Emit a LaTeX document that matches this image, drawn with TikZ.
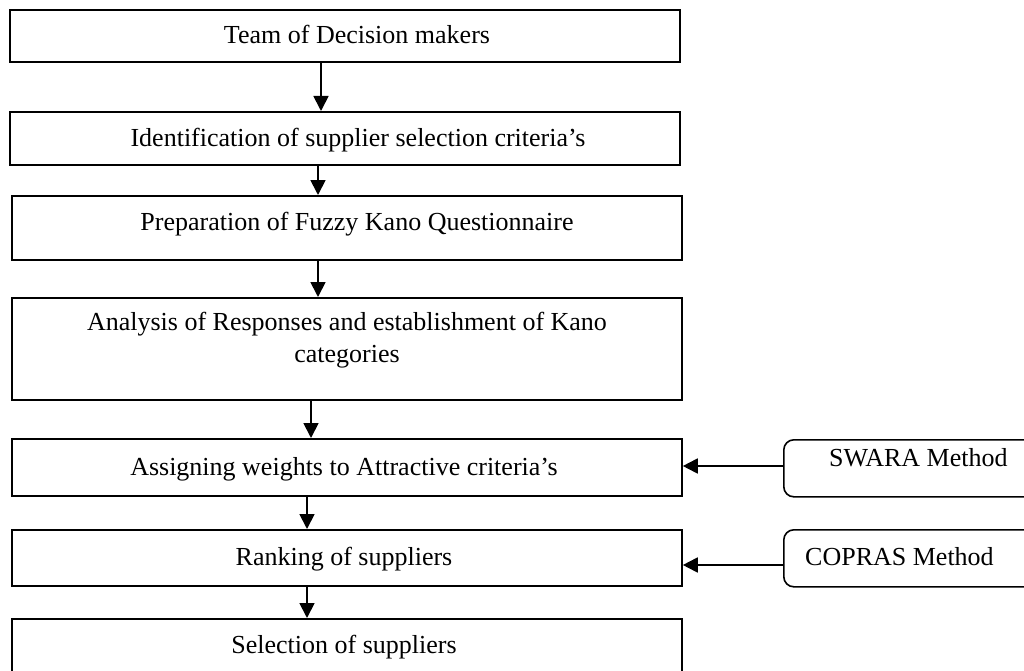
\documentclass[tikz,border=0pt]{standalone}
\usepackage{fontspec}
\setmainfont{Liberation Serif}
\usetikzlibrary{arrows.meta}
\begin{document}
\begin{tikzpicture}[x=1pt,y=-1pt,
  stage/.style={draw, line width=1.8pt, anchor=north west, inner sep=0pt},
  method/.style={draw, line width=1.6pt, rounded corners=10pt, anchor=north west, inner sep=0pt},
  words/.style={anchor=base, inner sep=0pt, font=\fontsize{26}{32}\selectfont},
  flow/.style={line width=1.8pt, -{Triangle[width=15pt,length=15pt]}}]
\useasboundingbox (0,0) rectangle (1024,671);

% process stages
\node[stage, minimum width=670pt, minimum height=52pt]  (b1) at (9,9)   {};
\node[stage, minimum width=670pt, minimum height=53pt]  (b2) at (9,111) {};
\node[stage, minimum width=670pt, minimum height=64pt]  (b3) at (11,195) {};
\node[stage, minimum width=670pt, minimum height=102pt] (b4) at (11,297) {};
\node[stage, minimum width=670pt, minimum height=57pt]  (b5) at (11,438) {};
\node[stage, minimum width=670pt, minimum height=56pt]  (b6) at (11,529) {};
\node[stage, minimum width=670pt, minimum height=72pt]  (b7) at (11,618) {};

\node[words] (t1) at (357,44)  {Team of Decision makers};
\node[words] (t2) at (358,147) {Identification of supplier selection criteria’s};
\node[words] (t3) at (357,230) {Preparation of Fuzzy Kano Questionnaire};
\node[words, anchor=north, align=center] (t4) at (347,312)
  {Analysis of Responses and establishment of Kano\\categories};
\node[words] (t5) at (344,475) {Assigning weights to Attractive criteria’s};
\node[words] (t6) at (344,565) {Ranking of suppliers};
\node[words] (t7) at (344,653) {Selection of suppliers};

% supporting methods
\node[method, minimum width=270pt, minimum height=57pt] (sw) at (783,439) {};
\node[method, minimum width=270pt, minimum height=57pt] (cp) at (783,529) {};
\node[words, anchor=base west] (tsw) at (829,466) {SWARA Method};
\node[words, anchor=base west] (tcp) at (805,565) {COPRAS Method};

% connectors
\draw[flow] (b1.south -| 321,0) -- (b2.north -| 321,0);
\draw[flow] (b2.south -| 318,0) -- (b3.north -| 318,0);
\draw[flow] (b3.south -| 318,0) -- (b4.north -| 318,0);
\draw[flow] (b4.south -| 311,0) -- (b5.north -| 311,0);
\draw[flow] (b5.south -| 307,0) -- (b6.north -| 307,0);
\draw[flow] (b6.south -| 307,0) -- (b7.north -| 307,0);
\draw[flow] (sw.west |- 0,466) -- (b5.east |- 0,466);
\draw[flow] (cp.west |- 0,565) -- (b6.east |- 0,565);
\end{tikzpicture}
\end{document}
